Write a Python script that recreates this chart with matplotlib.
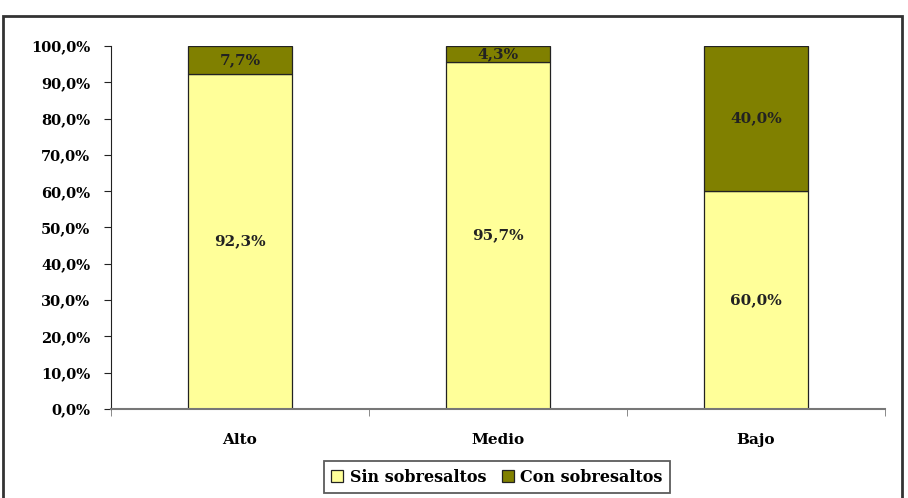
import numpy as np
import matplotlib.pyplot as plt
from matplotlib.patches import Rectangle

categories = ['Alto', 'Medio', 'Bajo']
sin_sobre = [92.3, 95.7, 60.0]
con_sobre = [7.7, 4.3, 40.0]
series_names = ['Sin sobresaltos', 'Con sobresaltos']
yticks = [0, 10, 20, 30, 40, 50, 60, 70, 80, 90, 100]

plt.rcParams['font.family'] = ['DejaVu Serif']
plt.rcParams['font.weight'] = 'bold'

fig = plt.figure(figsize=(9.08, 4.98), dpi=100)
ax = fig.add_axes([111/908, 1 - 409/498, (885-111)/908, (409-46)/498])

# outer frame of the chart
fig.patches.append(Rectangle((3/908, -0.05), (902-3)/908, 1.05 - 16/498,
                             transform=fig.transFigure, fill=False,
                             edgecolor='#333333', linewidth=2.0))

x = np.arange(len(categories))
w = 0.4
ax.bar(x, sin_sobre, w, color='#FFFF99', edgecolor='#222222', linewidth=0.9,
       label=series_names[0])
ax.bar(x, con_sobre, w, bottom=sin_sobre, color='#808000', edgecolor='#222222',
       linewidth=0.9, label=series_names[1])

for i in range(len(categories)):
    ax.text(x[i], sin_sobre[i] / 2, f'{sin_sobre[i]:.1f}%'.replace('.', ','),
            ha='center', va='center', fontsize=11, fontweight='bold', color='#222222')
    ax.text(x[i], sin_sobre[i] + con_sobre[i] / 2, f'{con_sobre[i]:.1f}%'.replace('.', ','),
            ha='center', va='center', fontsize=11, fontweight='bold', color='#222222')

ax.set_xlim(-0.5, 2.5)
ax.set_ylim(0, 100)
ax.set_yticks(yticks)
ax.set_yticklabels([f'{v:.1f}%'.replace('.', ',') for v in yticks], fontsize=10.5, fontweight='bold')
ax.set_xticks(x)
ax.set_xticklabels(categories, fontsize=11, fontweight='bold')
ax.tick_params(axis='x', length=0, pad=17)
ax.set_xticks([-0.5, 0.5, 1.5, 2.5], minor=True)
ax.tick_params(axis='x', which='minor', length=5, color='#777777')
ax.tick_params(axis='y', length=5, color='#222222', pad=10)

ax.spines['top'].set_visible(False)
ax.spines['right'].set_visible(False)
ax.spines['left'].set_color('#222222')
ax.spines['bottom'].set_color('#777777')
ax.spines['bottom'].set_linewidth(1.5)

leg = fig.legend(loc='center', bbox_to_anchor=(497/908, 1 - 477/498), ncol=2,
                 fontsize=11.5, frameon=True, fancybox=False, edgecolor='#333333',
                 handlelength=0.75, handleheight=0.75, handletextpad=0.4,
                 columnspacing=1.0, borderpad=0.45, borderaxespad=0)
leg.get_frame().set_linewidth(1.3)
for t in leg.get_texts():
    t.set_fontweight('bold')

fig.savefig('out.png', dpi=100)
